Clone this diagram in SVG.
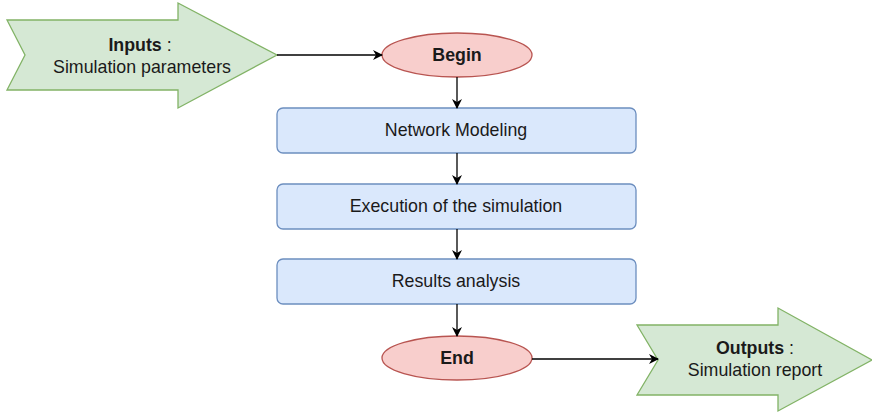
<svg xmlns="http://www.w3.org/2000/svg" width="872" height="413" viewBox="0 0 872 413">
<style>
.io{fill:#d5e8d4;stroke:#82b366;stroke-width:1.3}
.term{fill:#f8cecc;stroke:#b85450;stroke-width:1.3}
.step{fill:#dae8fc;stroke:#6c8ebf;stroke-width:1.3}
text{font-family:"Liberation Sans",Arial,sans-serif;font-size:17.8px;fill:#1a1a1a;text-anchor:middle}
.b{font-weight:bold}
.conn{stroke:#000;stroke-width:1.3;fill:none;marker-end:url(#ah)}
</style>
<defs>
<marker id="ah" viewBox="0 0 10 10" refX="9" refY="5" markerWidth="10" markerHeight="10" markerUnits="userSpaceOnUse" orient="auto">
<path d="M0,0 L10,5 L0,10 L3,5 Z" fill="#000"/>
</marker>
</defs>
<g id="inputs">
<path class="io" d="M7,20 L178,20 L178,3 L277,55 L178,108 L178,90 L7,90 L25,55 Z"/>
<text x="140" y="51"><tspan class="b">Inputs</tspan> :</text>
<text x="142" y="73">Simulation parameters</text>
</g>
<g id="begin">
<ellipse class="term" cx="457" cy="55" rx="75" ry="22"/>
<text class="b" x="457" y="61">Begin</text>
</g>
<g id="network">
<rect class="step" x="277" y="108" width="359" height="45" rx="6"/>
<text x="456" y="136">Network Modeling</text>
</g>
<g id="execution">
<rect class="step" x="277" y="184" width="359" height="45" rx="6"/>
<text x="456" y="212">Execution of the simulation</text>
</g>
<g id="results">
<rect class="step" x="277" y="259" width="359" height="45" rx="6"/>
<text x="456" y="287">Results analysis</text>
</g>
<g id="end">
<ellipse class="term" cx="457" cy="358" rx="75" ry="22"/>
<text class="b" x="457" y="364">End</text>
</g>
<g id="outputs">
<path class="io" d="M637,325 L778,325 L778,308 L872,360 L778,411 L778,395 L637,395 L658,360 Z"/>
<text x="755" y="354"><tspan class="b">Outputs</tspan> :</text>
<text x="755" y="376">Simulation report</text>
</g>
<g id="connectors">
<path class="conn" d="M277,55 L382,55"/>
<path class="conn" d="M457,77 L457,108"/>
<path class="conn" d="M457,153 L457,184"/>
<path class="conn" d="M457,229 L457,259"/>
<path class="conn" d="M457,304 L457,336"/>
<path class="conn" d="M532,359 L658,359"/>
</g>
</svg>
